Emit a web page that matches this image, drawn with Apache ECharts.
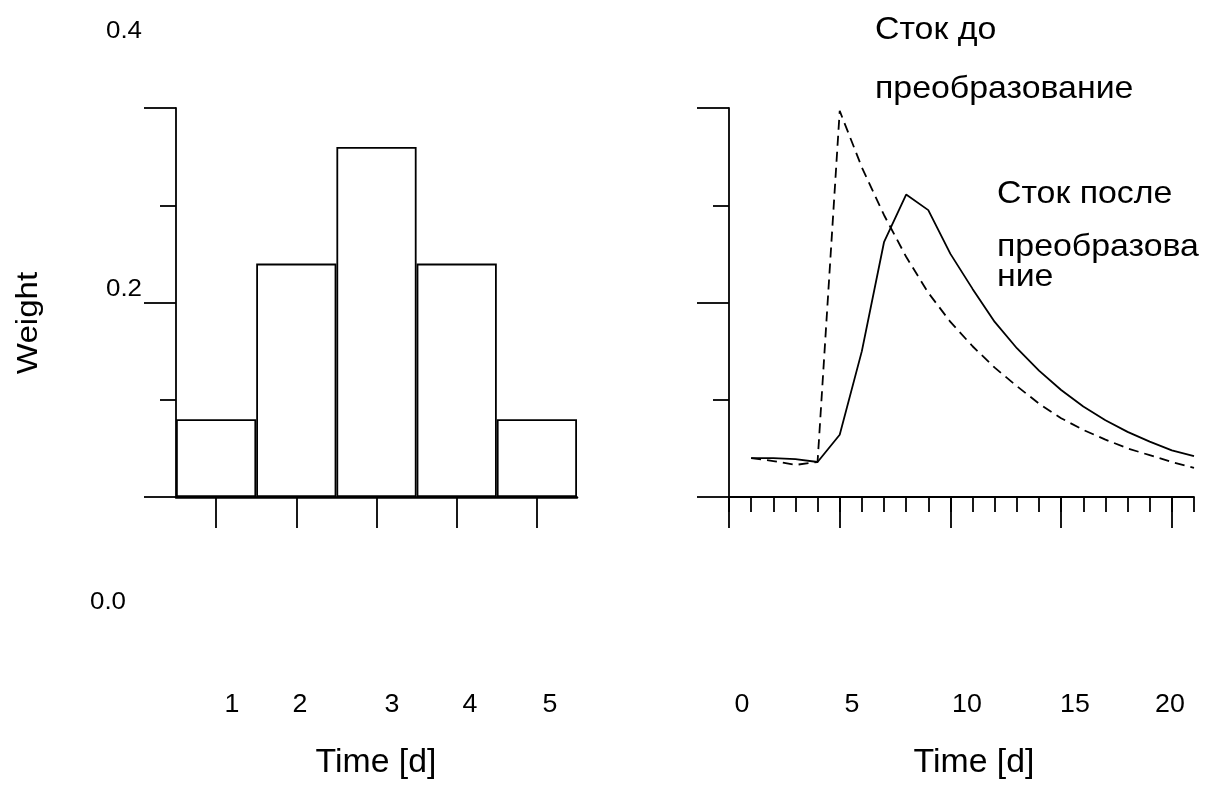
<!DOCTYPE html>
<html>
<head>
<meta charset="utf-8">
<script src="https://cdn.jsdelivr.net/npm/echarts@6/dist/echarts.min.js"></script>
<style>
html,body{margin:0;padding:0;background:#fff;}
#chart{width:1213px;height:785px;}
</style>
</head>
<body>
<div id="chart"></div>
<script>
// ---- data ----
const barCategories = ['1', '2', '3', '4', '5'];
const barWeights = [0.08, 0.24, 0.36, 0.24, 0.08];

const timeDays = [1, 2, 3, 4, 5, 6, 7, 8, 9, 10, 11, 12, 13, 14, 15, 16, 17, 18, 19, 20, 21];
const flowBefore = [0.040, 0.037, 0.033, 0.036, 0.397, 0.339, 0.290, 0.247, 0.210, 0.180, 0.155,
                    0.133, 0.114, 0.096, 0.081, 0.069, 0.059, 0.050, 0.043, 0.036, 0.030];
const flowAfter  = [0.040, 0.040, 0.039, 0.036, 0.064, 0.150, 0.262, 0.311, 0.295, 0.250, 0.214,
                    0.180, 0.153, 0.130, 0.110, 0.093, 0.079, 0.067, 0.057, 0.048, 0.042];
const rightCategories = ['0','1','2','3','4','5','6','7','8','9','10','11','12','13','14','15','16','17','18','19','20','21'];

const leftXTickLabels = ['1', '2', '3', '4', '5'];
const rightXTickLabels = ['0', '5', '10', '15', '20'];
const yTickLabels = ['0.4', '0.2', '0.0'];
const yAxisTitle = 'Weight';
const xAxisTitle = 'Time [d]';
const annotBefore = ['Сток до', 'преобразование'];
const annotAfter = ['Сток после', 'преобразова', 'ние'];

// ---- layout (positions / styles only) ----
const leftXLabelPos = [232, 300, 392, 470, 550];
const rightXLabelPos = [742, 852, 967, 1075, 1170];
const tickLabelY = 705;
const yLabelPos = [[124, 31], [124, 289], [108, 602]];
const titlePos = [[376, 763], [974, 763]];
const annotBeforePos = [[875, 30], [875, 89]];
const annotAfterPos = [[997, 194], [997, 247], [997, 277]];

const FONT = '"Liberation Sans", Arial, Helvetica, sans-serif';
const BLACK = '#000';
const LW = 1.8;

function txt(str, x, y, size, sx, align, rot) {
  return {
    type: 'text', x: x, y: y, scaleX: sx, rotation: rot || 0, silent: true,
    style: { text: str, fill: BLACK, fontSize: size, fontFamily: FONT,
             align: align || 'center', verticalAlign: 'middle' }
  };
}

const graphics = [];
leftXTickLabels.forEach((s, i) => graphics.push(txt(s, leftXLabelPos[i], tickLabelY, 25.5, 1.05)));
rightXTickLabels.forEach((s, i) => graphics.push(txt(s, rightXLabelPos[i], tickLabelY, 25.5, 1.05)));
yTickLabels.forEach((s, i) => graphics.push(txt(s, yLabelPos[i][0], yLabelPos[i][1], 24, 1.08)));
titlePos.forEach(p => graphics.push(txt(xAxisTitle, p[0], p[1], 32.5, 1.04)));
graphics.push(txt(yAxisTitle, 29, 323, 29, 1.14, 'center', Math.PI / 2));
annotBefore.forEach((s, i) => graphics.push(txt(s, annotBeforePos[i][0], annotBeforePos[i][1], 31.5, 1.075, 'left')));
annotAfter.forEach((s, i) => graphics.push(txt(s, annotAfterPos[i][0], annotAfterPos[i][1], 31.5, 1.075, 'left')));

const axisLineStyle = { color: BLACK, width: LW };

const yAxisCommon = {
  type: 'value', min: 0, max: 0.4, interval: 0.2,
  axisLine: { show: true, lineStyle: axisLineStyle },
  axisTick: { show: true, length: 32, lineStyle: axisLineStyle },
  minorTick: { show: true, splitNumber: 2, length: 16, lineStyle: axisLineStyle },
  axisLabel: { show: false },
  splitLine: { show: false },
  minorSplitLine: { show: false }
};

const option = {
  backgroundColor: '#fff',
  animation: false,
  grid: [
    { left: 176, top: 108, width: 401, height: 389 },
    { left: 729, top: 108, width: 465, height: 389 }
  ],
  xAxis: [
    {
      type: 'category', gridIndex: 0, position: 'bottom', data: barCategories, boundaryGap: true,
      axisLine: { show: true, lineStyle: { color: BLACK, width: 2.5 } },
      axisTick: { show: true, alignWithLabel: true, length: 31, lineStyle: axisLineStyle },
      axisLabel: { show: false }, splitLine: { show: false }
    },
    {
      type: 'value', gridIndex: 1, position: 'bottom', min: 0, max: 21, interval: 1,
      axisLine: { show: true, onZero: false, lineStyle: axisLineStyle },
      axisTick: { show: true, length: 15, lineStyle: axisLineStyle },
      axisLabel: { show: false }, splitLine: { show: false }
    },
    {
      type: 'category', gridIndex: 1, position: 'bottom', data: rightCategories, boundaryGap: false,
      axisLine: { show: false, onZero: false },
      axisTick: { show: true, length: 31, interval: function (idx) { return idx % 5 === 0; }, lineStyle: axisLineStyle },
      axisLabel: { show: false }, splitLine: { show: false }
    }
  ],
  yAxis: [
    Object.assign({ gridIndex: 0 }, yAxisCommon),
    Object.assign({ gridIndex: 1 }, yAxisCommon)
  ],
  series: [
    {
      type: 'bar', xAxisIndex: 0, yAxisIndex: 0, data: barWeights, barWidth: '100%',
      itemStyle: { color: 'rgba(255,255,255,0)', borderColor: BLACK, borderWidth: LW },
      silent: true
    },
    {
      type: 'line', name: 'before', xAxisIndex: 1, yAxisIndex: 1,
      data: timeDays.map((t, i) => [t, flowBefore[i]]),
      symbol: 'none', lineStyle: { color: BLACK, width: LW, type: [10, 6] }, silent: true
    },
    {
      type: 'line', name: 'after', xAxisIndex: 1, yAxisIndex: 1,
      data: timeDays.map((t, i) => [t, flowAfter[i]]),
      symbol: 'none', lineStyle: { color: BLACK, width: LW, type: 'solid' }, silent: true
    }
  ],
  graphic: graphics
};

const chart = echarts.init(document.getElementById('chart'), null, { renderer: 'canvas' });
chart.setOption(option);
</script>
</body>
</html>
